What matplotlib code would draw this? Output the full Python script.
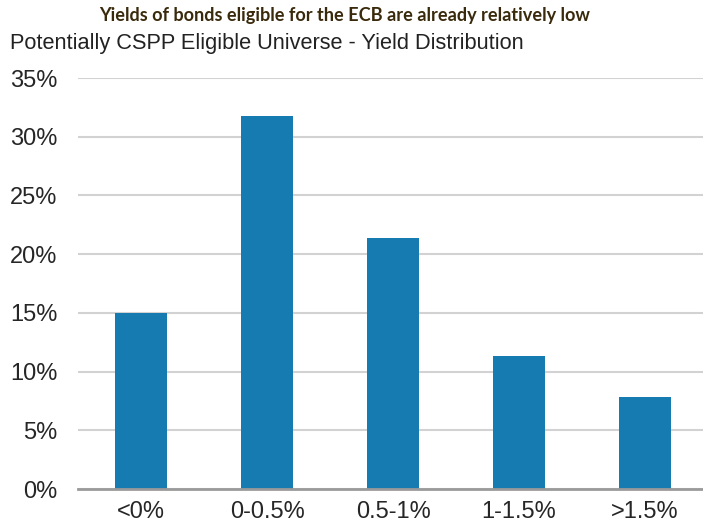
import matplotlib
matplotlib.use("Agg")
import matplotlib.pyplot as plt
from matplotlib.ticker import FuncFormatter

categories = ["<0%", "0-0.5%", "0.5-1%", "1-1.5%", ">1.5%"]
shares = [15.0, 31.8, 21.4, 11.35, 7.85]
y_ticks = [0, 5, 10, 15, 20, 25, 30, 35]

title = "Yields of bonds eligible for the ECB are already relatively low"
subtitle = "Potentially CSPP Eligible Universe - Yield Distribution"

W, H = 703, 529
fig = plt.figure(figsize=(W / 100, H / 100), dpi=100)
ax = fig.add_axes([78 / W, 1 - 489 / H, 625 / W, (489 - 78) / H])

x = list(range(len(categories)))
ax.bar(x, shares, width=0.42, color="#167bb1", zorder=3)

ax.set_ylim(0, 35)
ax.set_xlim(-0.5, 4.46)
ax.set_yticks(y_ticks)
ax.yaxis.set_major_formatter(FuncFormatter(lambda v, _: f"{v:.0f}%"))
ax.set_xticks(x)
ax.set_xticklabels(categories)

ax.grid(axis="y", color="#d2d2d2", linewidth=1.5, zorder=0)
for side in ("top", "right", "left"):
    ax.spines[side].set_visible(False)
ax.spines["bottom"].set_color("#9a9a9a")
ax.spines["bottom"].set_linewidth(2)
ax.spines["bottom"].set_zorder(4)

ax.tick_params(axis="both", length=0, labelsize=17, labelcolor="#262626",
               labelfontfamily="Liberation Sans")
ax.tick_params(axis="y", pad=15)
ax.tick_params(axis="x", pad=9)

t = fig.text(345 / W, 1 - 15 / H, title, ha="center", va="center",
             fontsize=14, fontweight="bold", color="#3a2a0c",
             family=["Lato", "DejaVu Sans"])
s = fig.text(10 / W, 1 - 44 / H, subtitle, ha="left", va="center",
             fontsize=15, color="#222222", family="Liberation Sans")

# fit the headline and subtitle to their widths
renderer = fig.canvas.get_renderer()
for txt, target in ((t, 495), (s, 518)):
    w = txt.get_window_extent(renderer).width
    txt.set_fontsize(txt.get_fontsize() * target / w)

fig.savefig("out.png", dpi=100)
